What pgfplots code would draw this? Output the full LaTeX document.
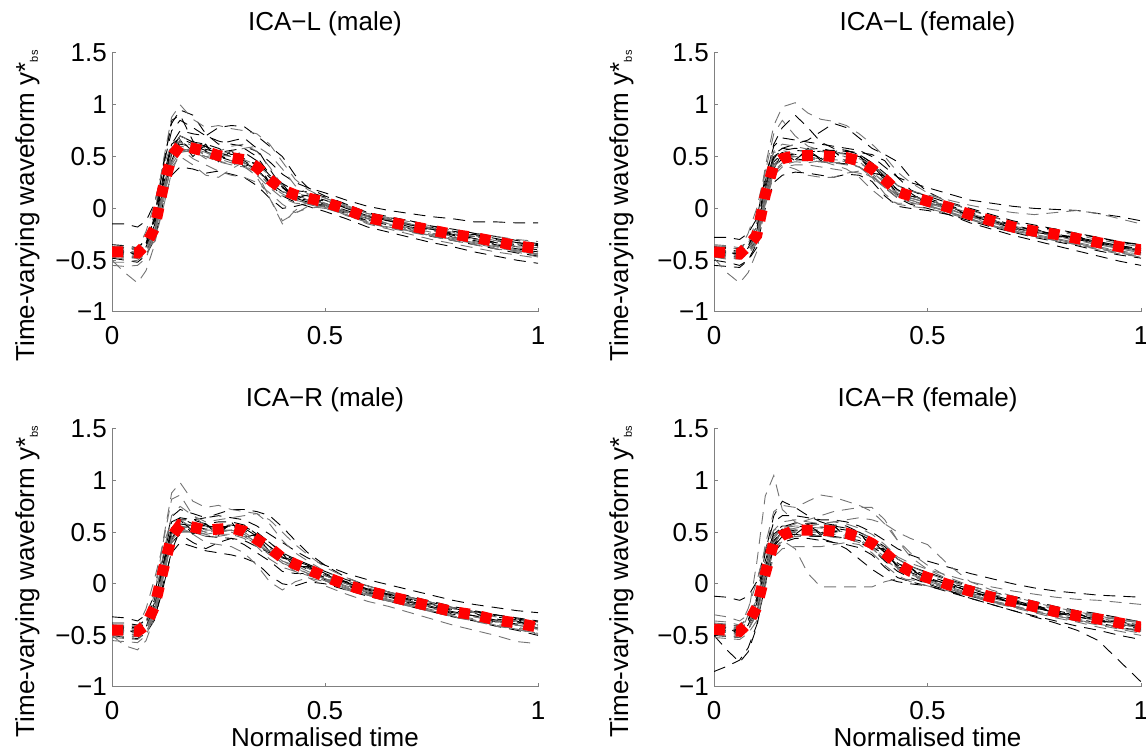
\documentclass[border=0pt]{standalone}
\usepackage{fontspec}
\setmainfont{Liberation Sans}
\usepackage{pgfplots}
\usepackage{pgfplotstable}
\pgfplotsset{compat=1.18}

% one row per curve (m = mean), transposed below so that each curve is a column
\pgfplotstableread{
id a1 a2 a3 a4 a5 a6 a7 a8 a9 a10 a11 a12 a13 a14 a15 a16 a17 a18 a19 a20 a21 a22 a23 a24 a25 a26 a27 a28 a29
x 0 0.03 0.06 0.08 0.10 0.12 0.14 0.16 0.19 0.22 0.25 0.28 0.31 0.34 0.37 0.40 0.43 0.46 0.50 0.55 0.60 0.65 0.70 0.75 0.80 0.85 0.90 0.95 1.00
m -0.42 -0.42 -0.43 -0.35 -0.19 0.20 0.50 0.61 0.58 0.55 0.51 0.49 0.47 0.40 0.28 0.18 0.13 0.10 0.06 -0.01 -0.09 -0.13 -0.17 -0.21 -0.25 -0.28 -0.32 -0.36 -0.39
c1 -0.40 -0.41 -0.44 -0.33 -0.12 0.30 0.62 0.68 0.62 0.57 0.54 0.56 0.58 0.50 0.33 0.17 0.10 0.08 0.05 -0.02 -0.08 -0.12 -0.16 -0.20 -0.24 -0.27 -0.31 -0.35 -0.38
c2 -0.38 -0.36 -0.40 -0.30 -0.05 0.45 0.88 1.00 0.86 0.78 0.80 0.77 0.75 0.72 0.62 0.45 0.28 0.18 0.10 0.02 -0.05 -0.10 -0.15 -0.20 -0.23 -0.27 -0.30 -0.34 -0.37
c3 -0.48 -0.50 -0.52 -0.45 -0.30 0.05 0.32 0.40 0.38 0.34 0.36 0.33 0.30 0.22 0.10 0.00 0.02 0.05 0.02 -0.05 -0.13 -0.18 -0.22 -0.27 -0.31 -0.35 -0.39 -0.43 -0.46
c4 -0.55 -0.56 -0.55 -0.48 -0.25 0.15 0.55 0.70 0.64 0.58 0.55 0.60 0.62 0.55 0.40 0.22 0.12 0.06 0.02 -0.06 -0.15 -0.20 -0.25 -0.30 -0.34 -0.38 -0.42 -0.45 -0.48
c5 -0.15 -0.15 -0.18 -0.12 0.05 0.40 0.75 0.85 0.78 0.70 0.65 0.62 0.60 0.55 0.45 0.33 0.25 0.20 0.15 0.08 0.02 -0.02 -0.05 -0.08 -0.10 -0.13 -0.13 -0.14 -0.14
c6 -0.50 -0.62 -0.72 -0.60 -0.35 0.05 0.45 0.58 0.55 0.50 0.45 0.42 0.40 0.32 0.20 0.10 0.05 0.04 0.00 -0.06 -0.14 -0.18 -0.22 -0.26 -0.30 -0.34 -0.38 -0.41 -0.43
c7 -0.35 -0.36 -0.38 -0.30 -0.10 0.30 0.62 0.75 0.72 0.70 0.78 0.80 0.79 0.70 0.60 0.50 0.32 0.20 0.12 0.04 -0.04 -0.08 -0.12 -0.17 -0.22 -0.25 -0.29 -0.33 -0.36
c8 -0.45 -0.47 -0.46 -0.40 -0.25 0.10 0.40 0.50 0.42 0.32 0.30 0.38 0.45 0.35 0.10 -0.12 -0.05 0.02 0.00 -0.04 -0.10 -0.15 -0.19 -0.24 -0.28 -0.32 -0.36 -0.40 -0.44
c9 -0.42 -0.43 -0.42 -0.36 -0.20 0.18 0.52 0.62 0.60 0.56 0.50 0.48 0.48 0.42 0.30 0.20 0.14 0.12 0.08 0.00 -0.07 -0.11 -0.15 -0.19 -0.23 -0.26 -0.30 -0.33 -0.35
c10 -0.40 -0.40 -0.44 -0.38 -0.22 0.15 0.55 0.66 0.60 0.54 0.48 0.44 0.42 0.30 0.10 -0.15 -0.02 0.06 0.04 -0.03 -0.10 -0.15 -0.19 -0.23 -0.27 -0.30 -0.34 -0.38 -0.41
c11 -0.44 -0.45 -0.45 -0.35 -0.10 0.40 0.85 0.90 0.65 0.55 0.50 0.46 0.44 0.38 0.25 0.16 0.12 0.10 0.07 0.01 -0.07 -0.12 -0.16 -0.20 -0.25 -0.29 -0.33 -0.37 -0.40
c12 -0.38 -0.38 -0.40 -0.36 -0.24 0.10 0.42 0.55 0.55 0.50 0.52 0.55 0.58 0.60 0.52 0.38 0.22 0.14 0.10 0.03 -0.05 -0.09 -0.13 -0.17 -0.21 -0.24 -0.27 -0.30 -0.32
c13 -0.46 -0.47 -0.48 -0.42 -0.24 0.22 0.56 0.70 0.64 0.60 0.54 0.50 0.46 0.38 0.24 0.12 0.06 0.02 -0.03 -0.10 -0.18 -0.23 -0.28 -0.33 -0.37 -0.42 -0.46 -0.50 -0.53
c14 -0.38 -0.39 -0.40 -0.40 -0.32 0.00 0.35 0.55 0.58 0.54 0.52 0.50 0.47 0.42 0.32 0.22 0.16 0.12 0.08 0.01 -0.07 -0.11 -0.15 -0.19 -0.23 -0.27 -0.31 -0.35 -0.38
c15 -0.42 -0.42 -0.44 -0.34 -0.08 0.42 0.82 0.95 0.90 0.72 0.62 0.65 0.68 0.58 0.38 0.20 0.10 0.06 0.03 -0.04 -0.12 -0.16 -0.20 -0.24 -0.28 -0.31 -0.35 -0.39 -0.42
c16 -0.52 -0.52 -0.50 -0.44 -0.28 0.12 0.48 0.58 0.48 0.42 0.36 0.32 0.30 0.25 0.15 0.04 -0.04 0.00 0.02 -0.04 -0.11 -0.16 -0.21 -0.25 -0.29 -0.33 -0.37 -0.41 -0.45
c17 -0.45 -0.40 -0.46 -0.37 -0.16 0.26 0.58 0.66 0.55 0.60 0.49 0.53 0.44 0.44 0.25 0.21 0.10 0.13 0.03 0.02 -0.12 -0.10 -0.20 -0.18 -0.28 -0.25 -0.35 -0.33 -0.42
c18 -0.47 -0.49 -0.47 -0.42 -0.27 0.12 0.44 0.54 0.56 0.48 0.46 0.42 0.44 0.36 0.26 0.12 0.10 0.04 0.03 -0.07 -0.13 -0.19 -0.21 -0.27 -0.29 -0.34 -0.36 -0.41 -0.44
c19 -0.37 -0.38 -0.39 -0.30 -0.12 0.28 0.58 0.70 0.64 0.62 0.58 0.52 0.54 0.46 0.32 0.24 0.17 0.16 0.11 0.04 -0.04 -0.09 -0.12 -0.17 -0.20 -0.24 -0.27 -0.31 -0.34
c20 -0.43 -0.44 -0.40 -0.22 0.05 0.40 0.62 0.64 0.56 0.52 0.50 0.46 0.42 0.34 0.24 0.16 0.14 0.08 0.05 -0.03 -0.08 -0.15 -0.16 -0.22 -0.24 -0.30 -0.31 -0.37 -0.38
c21 -0.41 -0.44 -0.42 -0.36 -0.22 0.16 0.46 0.66 0.50 0.62 0.45 0.56 0.40 0.46 0.22 0.24 0.08 0.14 0.04 0.01 -0.10 -0.12 -0.18 -0.20 -0.26 -0.27 -0.33 -0.35 -0.40
c22 -0.44 -0.45 -0.48 -0.40 -0.20 0.18 0.50 0.60 0.58 0.52 0.48 0.46 0.44 0.36 0.22 0.14 0.08 0.05 0.01 -0.06 -0.14 -0.19 -0.23 -0.27 -0.31 -0.35 -0.39 -0.42 -0.47
}\rawA

\pgfplotstableread{
id a1 a2 a3 a4 a5 a6 a7 a8 a9 a10 a11 a12 a13 a14 a15 a16 a17 a18 a19 a20 a21 a22 a23 a24 a25 a26 a27 a28 a29
x 0 0.03 0.06 0.08 0.10 0.12 0.14 0.16 0.19 0.22 0.25 0.28 0.31 0.34 0.37 0.40 0.43 0.46 0.50 0.55 0.60 0.65 0.70 0.75 0.80 0.85 0.90 0.95 1.00
m -0.42 -0.43 -0.44 -0.36 -0.26 0.13 0.42 0.48 0.51 0.51 0.51 0.50 0.49 0.46 0.38 0.28 0.16 0.12 0.07 0.01 -0.06 -0.12 -0.18 -0.22 -0.25 -0.29 -0.33 -0.37 -0.40
c1 -0.40 -0.41 -0.45 -0.36 -0.20 0.22 0.52 0.58 0.56 0.55 0.55 0.54 0.53 0.50 0.42 0.28 0.15 0.10 0.06 0.00 -0.07 -0.13 -0.19 -0.23 -0.26 -0.30 -0.34 -0.38 -0.41
c2 -0.36 -0.37 -0.40 -0.32 -0.12 0.40 0.80 0.98 1.02 0.92 0.86 0.84 0.80 0.72 0.62 0.50 0.35 0.25 0.15 0.06 -0.02 -0.08 -0.14 -0.18 -0.22 -0.26 -0.30 -0.34 -0.37
c3 -0.50 -0.52 -0.55 -0.50 -0.38 0.00 0.25 0.32 0.35 0.34 0.32 0.30 0.33 0.32 0.26 0.12 0.02 0.00 -0.02 -0.06 -0.12 -0.18 -0.23 -0.28 -0.32 -0.36 -0.41 -0.45 -0.48
c4 -0.48 -0.62 -0.72 -0.62 -0.42 0.02 0.36 0.44 0.46 0.46 0.45 0.44 0.42 0.40 0.32 0.20 0.10 0.06 0.02 -0.04 -0.10 -0.16 -0.21 -0.26 -0.30 -0.34 -0.38 -0.42 -0.45
c5 -0.28 -0.28 -0.30 -0.24 -0.10 0.30 0.60 0.68 0.66 0.64 0.62 0.60 0.58 0.56 0.50 0.40 0.30 0.25 0.20 0.14 0.08 0.05 0.02 0.00 -0.01 -0.02 -0.05 -0.08 -0.12
c6 -0.44 -0.44 -0.46 -0.40 -0.30 0.08 0.40 0.48 0.50 0.49 0.48 0.47 0.46 0.44 0.38 0.26 0.17 0.12 0.08 0.02 -0.05 -0.11 -0.17 -0.21 -0.25 -0.29 -0.33 -0.37 -0.40
c7 -0.38 -0.39 -0.42 -0.35 -0.22 0.18 0.48 0.58 0.62 0.66 0.74 0.82 0.78 0.68 0.58 0.52 0.45 0.30 0.16 0.06 0.00 -0.06 -0.12 -0.16 -0.20 -0.24 -0.28 -0.32 -0.35
c8 -0.46 -0.47 -0.48 -0.42 -0.32 0.05 0.35 0.42 0.38 0.32 0.30 0.30 0.34 0.36 0.30 0.14 0.04 0.02 0.00 -0.05 -0.11 -0.17 -0.22 -0.27 -0.31 -0.35 -0.40 -0.44 -0.47
c9 -0.42 -0.43 -0.44 -0.38 -0.25 0.15 0.45 0.52 0.52 0.52 0.50 0.50 0.50 0.48 0.40 0.28 0.18 0.12 0.08 0.02 -0.06 -0.12 -0.18 -0.22 -0.25 -0.29 -0.33 -0.37 -0.40
c10 -0.40 -0.41 -0.43 -0.34 -0.14 0.35 0.72 0.85 0.70 0.60 0.56 0.52 0.50 0.45 0.36 0.24 0.15 0.10 0.06 0.00 -0.08 -0.13 -0.19 -0.23 -0.27 -0.31 -0.35 -0.39 -0.43
c11 -0.45 -0.46 -0.47 -0.42 -0.30 0.10 0.42 0.50 0.52 0.54 0.56 0.56 0.55 0.54 0.52 0.46 0.30 0.18 0.10 0.03 -0.04 -0.10 -0.16 -0.21 -0.25 -0.29 -0.33 -0.37 -0.41
c12 -0.43 -0.44 -0.45 -0.38 -0.24 0.16 0.46 0.52 0.50 0.48 0.46 0.42 0.38 0.30 0.18 0.08 0.05 0.05 0.03 -0.03 -0.10 -0.16 -0.22 -0.27 -0.31 -0.35 -0.39 -0.43 -0.46
c13 -0.55 -0.56 -0.57 -0.50 -0.34 0.08 0.40 0.48 0.48 0.46 0.45 0.44 0.43 0.40 0.32 0.20 0.10 0.04 0.00 -0.06 -0.14 -0.20 -0.26 -0.31 -0.36 -0.41 -0.46 -0.51 -0.55
c14 -0.35 -0.36 -0.38 -0.32 -0.18 0.24 0.55 0.62 0.60 0.57 0.55 0.54 0.52 0.48 0.42 0.32 0.22 0.17 0.13 0.08 0.03 -0.01 -0.04 -0.06 -0.04 -0.02 -0.05 -0.10 -0.15
c15 -0.42 -0.42 -0.44 -0.37 -0.20 0.26 0.62 0.78 0.90 0.78 0.64 0.58 0.56 0.52 0.44 0.30 0.18 0.12 0.08 0.02 -0.05 -0.11 -0.17 -0.21 -0.25 -0.28 -0.32 -0.36 -0.39
c16 -0.47 -0.48 -0.49 -0.44 -0.34 0.04 0.32 0.40 0.42 0.42 0.40 0.38 0.36 0.34 0.30 0.22 0.12 0.08 0.04 -0.02 -0.09 -0.15 -0.20 -0.25 -0.29 -0.33 -0.37 -0.41 -0.44
c17 -0.45 -0.40 -0.47 -0.38 -0.22 0.18 0.48 0.54 0.47 0.56 0.48 0.55 0.46 0.50 0.35 0.31 0.13 0.15 0.04 0.04 -0.09 -0.09 -0.21 -0.19 -0.28 -0.26 -0.36 -0.34 -0.43
c18 -0.47 -0.49 -0.48 -0.42 -0.33 0.06 0.36 0.42 0.45 0.44 0.46 0.44 0.45 0.40 0.34 0.22 0.12 0.07 0.03 -0.04 -0.10 -0.17 -0.21 -0.27 -0.29 -0.34 -0.37 -0.42 -0.44
c19 -0.37 -0.38 -0.39 -0.31 -0.18 0.22 0.50 0.56 0.58 0.57 0.58 0.55 0.56 0.52 0.44 0.34 0.22 0.17 0.12 0.05 -0.01 -0.08 -0.13 -0.18 -0.20 -0.25 -0.28 -0.33 -0.35
c20 -0.43 -0.44 -0.40 -0.24 0.00 0.36 0.54 0.56 0.52 0.50 0.48 0.47 0.45 0.40 0.30 0.20 0.14 0.10 0.05 -0.01 -0.08 -0.14 -0.19 -0.24 -0.27 -0.31 -0.35 -0.38 -0.42
c21 -0.41 -0.44 -0.42 -0.37 -0.28 0.10 0.38 0.54 0.46 0.58 0.46 0.56 0.44 0.52 0.34 0.32 0.12 0.16 0.04 0.03 -0.08 -0.10 -0.20 -0.20 -0.27 -0.27 -0.35 -0.35 -0.41
c22 -0.44 -0.45 -0.48 -0.40 -0.27 0.12 0.42 0.50 0.50 0.49 0.48 0.48 0.47 0.44 0.36 0.24 0.12 0.08 0.03 -0.04 -0.10 -0.17 -0.23 -0.27 -0.31 -0.35 -0.39 -0.43 -0.47
}\rawB

\pgfplotstableread{
id a1 a2 a3 a4 a5 a6 a7 a8 a9 a10 a11 a12 a13 a14 a15 a16 a17 a18 a19 a20 a21 a22 a23 a24 a25 a26 a27 a28 a29
x 0 0.03 0.06 0.08 0.10 0.12 0.14 0.16 0.19 0.22 0.25 0.28 0.31 0.34 0.37 0.40 0.43 0.46 0.50 0.55 0.60 0.65 0.70 0.75 0.80 0.85 0.90 0.95 1.00
m -0.45 -0.45 -0.46 -0.40 -0.22 0.13 0.46 0.57 0.55 0.52 0.53 0.54 0.51 0.43 0.35 0.25 0.19 0.14 0.07 -0.01 -0.07 -0.12 -0.17 -0.22 -0.27 -0.30 -0.35 -0.38 -0.42
c1 -0.43 -0.44 -0.46 -0.38 -0.15 0.25 0.60 0.64 0.58 0.55 0.56 0.57 0.54 0.46 0.36 0.26 0.20 0.14 0.06 -0.02 -0.08 -0.13 -0.18 -0.23 -0.28 -0.31 -0.35 -0.39 -0.43
c2 -0.40 -0.40 -0.42 -0.34 -0.05 0.42 0.88 0.98 0.80 0.74 0.76 0.72 0.70 0.68 0.62 0.50 0.38 0.28 0.16 0.06 -0.02 -0.08 -0.13 -0.18 -0.23 -0.27 -0.31 -0.35 -0.38
c3 -0.50 -0.52 -0.53 -0.48 -0.35 0.00 0.30 0.40 0.36 0.32 0.30 0.28 0.25 0.20 0.08 0.00 -0.02 0.02 0.00 -0.06 -0.12 -0.17 -0.22 -0.27 -0.32 -0.36 -0.41 -0.45 -0.50
c4 -0.50 -0.60 -0.64 -0.55 -0.32 0.05 0.42 0.52 0.50 0.48 0.50 0.52 0.50 0.42 0.32 0.22 0.16 0.10 0.04 -0.04 -0.10 -0.15 -0.20 -0.25 -0.30 -0.34 -0.38 -0.42 -0.46
c5 -0.32 -0.33 -0.36 -0.30 -0.10 0.30 0.65 0.72 0.68 0.64 0.66 0.64 0.62 0.56 0.48 0.40 0.32 0.25 0.18 0.10 0.04 -0.01 -0.06 -0.11 -0.16 -0.20 -0.23 -0.26 -0.28
c6 -0.46 -0.47 -0.48 -0.42 -0.26 0.08 0.44 0.56 0.54 0.50 0.50 0.52 0.50 0.44 0.34 0.26 0.20 0.15 0.08 0.00 -0.07 -0.12 -0.17 -0.22 -0.27 -0.30 -0.35 -0.38 -0.42
c7 -0.42 -0.42 -0.44 -0.38 -0.20 0.18 0.50 0.62 0.62 0.64 0.68 0.72 0.72 0.70 0.66 0.55 0.42 0.30 0.18 0.06 -0.02 -0.08 -0.13 -0.18 -0.23 -0.27 -0.31 -0.35 -0.39
c8 -0.48 -0.49 -0.50 -0.44 -0.28 0.10 0.46 0.55 0.48 0.40 0.38 0.36 0.30 0.18 0.02 -0.06 0.02 0.06 0.02 -0.05 -0.11 -0.16 -0.21 -0.26 -0.31 -0.35 -0.40 -0.44 -0.48
c9 -0.45 -0.45 -0.46 -0.40 -0.22 0.14 0.48 0.58 0.56 0.53 0.54 0.55 0.52 0.45 0.36 0.27 0.21 0.15 0.08 0.00 -0.06 -0.11 -0.16 -0.21 -0.26 -0.29 -0.34 -0.37 -0.40
c10 -0.44 -0.45 -0.46 -0.36 -0.10 0.40 0.82 0.86 0.66 0.56 0.52 0.50 0.46 0.38 0.28 0.20 0.15 0.10 0.05 -0.02 -0.08 -0.13 -0.18 -0.23 -0.28 -0.32 -0.36 -0.40 -0.44
c11 -0.40 -0.41 -0.43 -0.38 -0.24 0.10 0.40 0.48 0.40 0.34 0.40 0.44 0.38 0.30 0.22 0.12 0.10 0.10 0.06 -0.01 -0.07 -0.12 -0.17 -0.22 -0.27 -0.31 -0.36 -0.40 -0.44
c12 -0.55 -0.56 -0.57 -0.50 -0.30 0.12 0.48 0.60 0.56 0.52 0.52 0.52 0.48 0.40 0.30 0.20 0.12 0.06 -0.02 -0.10 -0.17 -0.22 -0.28 -0.34 -0.40 -0.45 -0.50 -0.56 -0.58
c13 -0.42 -0.43 -0.44 -0.44 -0.34 -0.04 0.32 0.52 0.58 0.56 0.55 0.56 0.55 0.50 0.40 0.30 0.22 0.16 0.09 0.01 -0.05 -0.10 -0.15 -0.20 -0.25 -0.28 -0.32 -0.35 -0.38
c14 -0.46 -0.47 -0.47 -0.40 -0.18 0.28 0.66 0.75 0.66 0.60 0.62 0.64 0.66 0.68 0.58 0.42 0.30 0.22 0.12 0.03 -0.04 -0.09 -0.14 -0.20 -0.24 -0.28 -0.32 -0.36 -0.40
c15 -0.38 -0.38 -0.40 -0.35 -0.22 0.12 0.45 0.52 0.50 0.46 0.45 0.44 0.42 0.36 0.30 0.25 0.22 0.18 0.10 0.02 -0.05 -0.10 -0.15 -0.20 -0.24 -0.27 -0.30 -0.33 -0.36
c16 -0.52 -0.53 -0.54 -0.47 -0.28 0.08 0.40 0.50 0.52 0.48 0.46 0.48 0.44 0.36 0.24 0.16 0.12 0.08 0.03 -0.04 -0.10 -0.16 -0.22 -0.27 -0.32 -0.36 -0.40 -0.44 -0.48
c17 -0.48 -0.43 -0.49 -0.42 -0.18 0.19 0.54 0.62 0.51 0.58 0.50 0.58 0.47 0.47 0.31 0.29 0.16 0.17 0.04 0.02 -0.10 -0.09 -0.20 -0.19 -0.30 -0.27 -0.38 -0.35 -0.45
c18 -0.50 -0.51 -0.51 -0.46 -0.30 0.06 0.40 0.50 0.50 0.46 0.48 0.48 0.46 0.38 0.30 0.20 0.14 0.09 0.03 -0.06 -0.11 -0.17 -0.21 -0.27 -0.31 -0.35 -0.39 -0.43 -0.46
c19 -0.40 -0.41 -0.41 -0.35 -0.15 0.20 0.54 0.64 0.62 0.58 0.60 0.60 0.57 0.48 0.40 0.30 0.24 0.19 0.12 0.04 -0.02 -0.08 -0.12 -0.17 -0.22 -0.26 -0.30 -0.34 -0.37
c20 -0.46 -0.46 -0.42 -0.24 0.05 0.38 0.60 0.62 0.54 0.50 0.52 0.52 0.48 0.40 0.32 0.22 0.18 0.12 0.05 -0.03 -0.08 -0.14 -0.18 -0.24 -0.28 -0.32 -0.36 -0.40 -0.43
c21 -0.44 -0.47 -0.45 -0.41 -0.25 0.10 0.42 0.62 0.48 0.58 0.47 0.60 0.45 0.48 0.30 0.30 0.15 0.18 0.04 0.02 -0.09 -0.10 -0.19 -0.20 -0.29 -0.28 -0.37 -0.36 -0.43
c22 -0.47 -0.48 -0.50 -0.44 -0.24 0.12 0.45 0.55 0.54 0.50 0.51 0.52 0.48 0.40 0.32 0.22 0.16 0.10 0.03 -0.05 -0.11 -0.17 -0.22 -0.27 -0.32 -0.36 -0.41 -0.44 -0.49
}\rawC

\pgfplotstableread{
id a1 a2 a3 a4 a5 a6 a7 a8 a9 a10 a11 a12 a13 a14 a15 a16 a17 a18 a19 a20 a21 a22 a23 a24 a25 a26 a27 a28 a29
x 0 0.03 0.06 0.08 0.10 0.12 0.14 0.16 0.19 0.22 0.25 0.28 0.31 0.34 0.37 0.40 0.43 0.46 0.50 0.55 0.60 0.65 0.70 0.75 0.80 0.85 0.90 0.95 1.00
m -0.44 -0.45 -0.46 -0.38 -0.23 0.10 0.40 0.47 0.52 0.52 0.52 0.51 0.49 0.45 0.39 0.30 0.19 0.12 0.06 -0.01 -0.07 -0.13 -0.17 -0.22 -0.27 -0.31 -0.34 -0.38 -0.42
c1 -0.42 -0.43 -0.46 -0.36 -0.16 0.22 0.50 0.56 0.56 0.55 0.55 0.54 0.52 0.48 0.42 0.30 0.18 0.11 0.05 -0.02 -0.08 -0.14 -0.18 -0.23 -0.28 -0.32 -0.35 -0.39 -0.43
c2 -0.38 -0.39 -0.42 -0.32 -0.10 0.38 0.70 0.76 0.74 0.80 0.86 0.84 0.80 0.76 0.70 0.58 0.42 0.30 0.18 0.06 -0.02 -0.08 -0.13 -0.18 -0.23 -0.27 -0.30 -0.34 -0.37
c3 -0.85 -0.80 -0.74 -0.62 -0.40 0.00 0.30 0.40 0.44 0.44 0.42 0.40 0.38 0.35 0.28 0.16 0.06 0.02 -0.02 -0.08 -0.14 -0.20 -0.26 -0.32 -0.38 -0.45 -0.55 -0.75 -0.95
c4 -0.46 -0.47 -0.50 -0.30 0.20 0.85 1.05 0.72 0.60 0.55 0.54 0.52 0.50 0.45 0.36 0.24 0.14 0.08 0.03 -0.04 -0.10 -0.16 -0.21 -0.26 -0.30 -0.34 -0.38 -0.42 -0.45
c5 -0.12 -0.13 -0.16 -0.12 0.02 0.32 0.60 0.66 0.66 0.64 0.62 0.62 0.60 0.56 0.50 0.42 0.34 0.28 0.22 0.16 0.10 0.05 0.00 -0.04 -0.07 -0.09 -0.11 -0.12 -0.13
c6 -0.48 -0.50 -0.52 -0.44 -0.30 0.05 0.35 0.42 0.34 0.10 -0.03 -0.03 -0.03 -0.03 -0.03 0.02 0.05 0.04 0.01 -0.05 -0.11 -0.17 -0.22 -0.27 -0.31 -0.35 -0.39 -0.43 -0.46
c7 -0.50 -0.64 -0.76 -0.66 -0.42 0.00 0.36 0.46 0.48 0.46 0.46 0.46 0.44 0.42 0.36 0.28 0.18 0.12 0.06 -0.01 -0.07 -0.13 -0.18 -0.23 -0.28 -0.32 -0.36 -0.40 -0.44
c8 -0.40 -0.41 -0.43 -0.38 -0.24 0.10 0.40 0.50 0.54 0.56 0.58 0.60 0.62 0.64 0.62 0.58 0.50 0.44 0.38 0.18 0.02 -0.06 -0.12 -0.18 -0.23 -0.27 -0.31 -0.35 -0.38
c9 -0.44 -0.45 -0.46 -0.39 -0.24 0.12 0.41 0.50 0.52 0.52 0.52 0.51 0.49 0.45 0.40 0.31 0.20 0.13 0.06 -0.01 -0.07 -0.13 -0.17 -0.22 -0.27 -0.31 -0.34 -0.38 -0.42
c10 -0.52 -0.53 -0.54 -0.48 -0.36 -0.02 0.26 0.34 0.36 0.36 0.36 0.38 0.40 0.38 0.30 0.18 0.08 0.02 -0.02 -0.07 -0.12 -0.18 -0.23 -0.28 -0.33 -0.37 -0.42 -0.46 -0.50
c11 -0.42 -0.42 -0.45 -0.35 -0.14 0.30 0.66 0.80 0.74 0.66 0.60 0.56 0.54 0.50 0.44 0.32 0.20 0.14 0.08 0.01 -0.05 -0.11 -0.16 -0.21 -0.26 -0.30 -0.33 -0.37 -0.40
c12 -0.36 -0.37 -0.40 -0.34 -0.20 0.16 0.46 0.54 0.56 0.56 0.58 0.60 0.58 0.54 0.48 0.38 0.26 0.20 0.14 0.08 0.02 -0.03 -0.07 -0.10 -0.13 -0.15 -0.16 -0.18 -0.20
c13 -0.50 -0.51 -0.52 -0.45 -0.28 0.08 0.38 0.46 0.48 0.48 0.47 0.46 0.44 0.40 0.34 0.22 0.12 0.06 0.00 -0.07 -0.14 -0.20 -0.26 -0.31 -0.36 -0.41 -0.45 -0.50 -0.54
c14 -0.40 -0.41 -0.43 -0.37 -0.22 0.14 0.44 0.54 0.58 0.62 0.66 0.70 0.72 0.74 0.74 0.62 0.42 0.26 0.14 0.04 -0.04 -0.10 -0.15 -0.20 -0.25 -0.29 -0.33 -0.37 -0.41
c15 -0.46 -0.47 -0.48 -0.41 -0.26 0.10 0.42 0.50 0.50 0.48 0.44 0.40 0.34 0.24 0.14 0.06 0.02 0.00 -0.02 -0.07 -0.12 -0.17 -0.22 -0.26 -0.30 -0.34 -0.38 -0.42 -0.46
c16 -0.30 -0.32 -0.36 -0.30 -0.16 0.20 0.52 0.60 0.62 0.60 0.58 0.56 0.54 0.50 0.44 0.34 0.24 0.17 0.10 0.03 -0.04 -0.10 -0.15 -0.20 -0.24 -0.28 -0.32 -0.35 -0.38
c17 -0.47 -0.42 -0.49 -0.40 -0.19 0.16 0.46 0.53 0.48 0.57 0.49 0.56 0.46 0.49 0.36 0.33 0.16 0.15 0.03 0.02 -0.10 -0.10 -0.20 -0.19 -0.30 -0.28 -0.37 -0.35 -0.45
c18 -0.49 -0.51 -0.50 -0.44 -0.30 0.03 0.34 0.41 0.46 0.46 0.47 0.45 0.44 0.40 0.34 0.24 0.14 0.07 0.02 -0.06 -0.11 -0.18 -0.21 -0.27 -0.31 -0.36 -0.38 -0.43 -0.46
c19 -0.39 -0.40 -0.41 -0.33 -0.16 0.18 0.48 0.55 0.59 0.58 0.59 0.57 0.56 0.50 0.44 0.36 0.24 0.17 0.11 0.04 -0.02 -0.08 -0.12 -0.17 -0.22 -0.26 -0.29 -0.33 -0.37
c20 -0.45 -0.46 -0.42 -0.24 0.02 0.34 0.52 0.54 0.53 0.50 0.50 0.48 0.46 0.42 0.34 0.24 0.16 0.10 0.04 -0.03 -0.09 -0.14 -0.19 -0.24 -0.28 -0.32 -0.36 -0.39 -0.43
c21 -0.43 -0.46 -0.44 -0.39 -0.26 0.07 0.37 0.53 0.47 0.58 0.47 0.57 0.44 0.50 0.35 0.34 0.15 0.16 0.03 0.03 -0.10 -0.11 -0.19 -0.21 -0.29 -0.29 -0.36 -0.36 -0.43
c22 -0.46 -0.47 -0.49 -0.41 -0.24 0.10 0.40 0.48 0.51 0.50 0.50 0.50 0.47 0.43 0.36 0.26 0.15 0.09 0.03 -0.05 -0.11 -0.17 -0.22 -0.27 -0.32 -0.36 -0.40 -0.44 -0.48
}\rawD

\pgfplotstabletranspose[colnames from=id]{\dataA}{\rawA}
\pgfplotstabletranspose[colnames from=id]{\dataB}{\rawB}
\pgfplotstabletranspose[colnames from=id]{\dataC}{\rawC}
\pgfplotstabletranspose[colnames from=id]{\dataD}{\rawD}

\newcommand\ylab{Time-varying waveform y*\textsubscript{\fontsize{11}{11}\selectfont bs}}

\pgfplotsset{
  wave/.style={line width=0.9pt, dash pattern=on 12pt off 8pt},
  meanwave/.style={color=red, line width=11pt, dash pattern=on 11pt off 11pt},
  panel/.style={
    scale only axis, height=259pt,
    xmin=0, xmax=1, ymin=-1, ymax=1.5,
    axis x line=bottom, axis y line=left,
    axis line style={-, draw=black!50, line width=1pt},
    xtick={0,0.5,1}, xticklabels={0,0.5,1},
    ytick={-1,-0.5,0,0.5,1,1.5}, yticklabels={−1,−0.5,0,0.5,1,1.5},
    tick align=inside, major tick length=4pt,
    tick style={draw=black!50, line width=1pt},
    ticklabel style={font=\fontsize{26}{30}\selectfont, inner sep=0pt},
    x tick label style={yshift=-14pt},
    y tick label style={xshift=-5pt},
    title style={font=\fontsize{26}{30}\selectfont, at={(axis description cs:0.5,1)}, anchor=base, yshift=16pt},
    label style={font=\fontsize{26}{30}\selectfont},
    xlabel style={at={(axis description cs:0.5,0)}, anchor=base, yshift=-60pt},
  },
  leftlab/.style={ylabel style={at={(axis description cs:-0.183,0.41)}, anchor=base}},
  rightlab/.style={ylabel style={at={(axis description cs:-0.201,0.41)}, anchor=base}},
}

\newcommand\curves[1]{%
  \pgfplotsinvokeforeach{1,3,...,21}{\addplot[wave, black] table[x=x, y=c##1] {#1};}
  \pgfplotsinvokeforeach{2,4,...,22}{\addplot[wave, black!55] table[x=x, y=c##1] {#1};}
  \addplot[meanwave] table[x=x, y=m] {#1};
}

\begin{document}
\begin{tikzpicture}
\useasboundingbox (0,0) rectangle (1146pt,754pt);

\begin{axis}[panel, leftlab, width=426pt, at={(112pt,442pt)}, anchor=south west,
  title={ICA−L (male)}, ylabel={\ylab}]
\curves{\dataA}
\end{axis}

\begin{axis}[panel, rightlab, width=427pt, at={(714pt,442pt)}, anchor=south west,
  title={ICA−L (female)}, ylabel={\ylab}]
\curves{\dataB}
\end{axis}

\begin{axis}[panel, leftlab, width=426pt, height=258pt, at={(112pt,67pt)}, anchor=south west,
  title={ICA−R (male)}, ylabel={\ylab}, xlabel={Normalised time}]
\curves{\dataC}
\end{axis}

\begin{axis}[panel, rightlab, width=427pt, height=258pt, at={(714pt,67pt)}, anchor=south west,
  title={ICA−R (female)}, ylabel={\ylab}, xlabel={Normalised time}]
\curves{\dataD}
\end{axis}

\end{tikzpicture}
\end{document}
